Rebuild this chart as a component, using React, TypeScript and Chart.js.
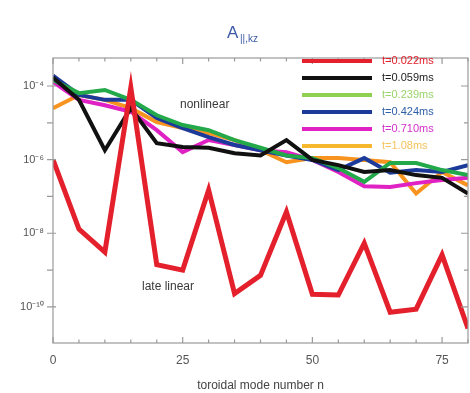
import React, { useEffect, useRef } from "react";
import { Chart, registerables } from "chart.js";

Chart.register(...registerables);

const nValues = [0, 5, 10, 15, 20, 25, 30, 35, 40, 45, 50, 55, 60, 65, 70, 75, 80];

const seriesLabels = ["t=0.022ms", "t=0.059ms", "t=0.239ms", "t=0.424ms", "t=0.710ms", "t=1.08ms"];

const t022 = [1e-6, 1.3e-8, 3.1e-9, 9e-5, 1.4e-9, 1e-9, 1.5e-7, 2.3e-10, 7.2e-10, 3.8e-8, 2.2e-10, 2.1e-10, 5.4e-9, 7.2e-11, 8.7e-11, 2.6e-9, 2.6e-11];
const t059 = [1.7e-4, 4.2e-5, 1.8e-6, 2.5e-5, 2.8e-6, 2.2e-6, 2.1e-6, 1.5e-6, 1.3e-6, 3.4e-6, 9.8e-7, 7.1e-7, 4.6e-7, 5.2e-7, 3.8e-7, 3.2e-7, 1.2e-7];
const t239 = [1.45e-4, 6.4e-5, 7.8e-5, 4.2e-5, 1.6e-5, 8.7e-6, 6.3e-6, 3.4e-6, 2.1e-6, 1.3e-6, 1.1e-6, 5.9e-7, 2.5e-7, 8.1e-7, 8.1e-7, 5.2e-7, 3.8e-7];
const t424 = [1.9e-4, 5.7e-5, 4.2e-5, 4.2e-5, 1.35e-5, 7.2e-6, 4.1e-6, 2.5e-6, 1.8e-6, 1.3e-6, 9.8e-7, 5.2e-7, 1.1e-6, 4.4e-7, 5.2e-7, 4.6e-7, 7.1e-7];
const t710 = [1.3e-4, 4.2e-5, 3e-5, 2e-5, 6.3e-6, 1.6e-6, 3.4e-6, 2.5e-6, 1.8e-6, 1.6e-6, 9.8e-7, 4.6e-7, 1.9e-7, 1.8e-7, 2.3e-7, 2.8e-7, 3.2e-7];
const t108 = [2.5e-5, 5.7e-5, 4.2e-5, 2.5e-5, 1.05e-5, 7.2e-6, 5.3e-6, 3.4e-6, 1.8e-6, 8.5e-7, 1.1e-6, 1.1e-6, 9.8e-7, 8.5e-7, 1.2e-7, 4.6e-7, 2e-7];

const yMajorExps = [-4, -6, -8, -10];
const yMinorExps = [-5, -7, -9];
const xTickLabels = [0, 25, 50, 75];

const lineColors = ["#e3202b", "#111111", "#23a94a", "#1c3a9a", "#e021c4", "#f7931e"];
const legendLineColors = ["#e3202b", "#111111", "#8fd052", "#1c3a9a", "#e021c4", "#f6b92e"];
const legendTextColors = ["#e3202b", "#222222", "#9ad46a", "#2d5fa8", "#d22fc8", "#f4c35c"];

const SUP: Record<string, string> = { "-": "⁻", "0": "⁰", "1": "¹", "2": "²", "3": "³", "4": "⁴", "5": "⁵", "6": "⁶", "7": "⁷", "8": "⁸", "9": "⁹" };
const supText = (e: number) => "10" + String(e).split("").map((c) => SUP[c] || c).join("");

const decorPlugin = {
  id: "decor",
  afterDatasetsDraw(chart: any) {
    const { ctx, chartArea: a, scales } = chart;
    const xs = scales.x;
    const ys = scales.y;
    ctx.save();
    ctx.strokeStyle = "#9a9a9a";
    ctx.lineWidth = 1.2;
    ctx.strokeRect(a.left, a.top, a.right - a.left, a.bottom - a.top);
    for (let n = 0; n <= 80; n += 5) {
      const px = xs.getPixelForValue(n);
      const len = n % 25 === 0 ? 6 : 3.5;
      ctx.beginPath();
      ctx.moveTo(px, a.bottom);
      ctx.lineTo(px, a.bottom - len);
      ctx.moveTo(px, a.top);
      ctx.lineTo(px, a.top + len);
      ctx.stroke();
    }
    const yt = [...yMajorExps.map((e) => [e, 7]), ...yMinorExps.map((e) => [e, 4])];
    for (const [e, len] of yt) {
      const py = ys.getPixelForValue(Math.pow(10, e));
      ctx.beginPath();
      ctx.moveTo(a.left - 6, py);
      ctx.lineTo(a.left + len - 4, py);
      ctx.moveTo(a.right, py);
      ctx.lineTo(a.right - len, py);
      ctx.stroke();
    }
    ctx.font = "11px 'Liberation Sans', Arial, sans-serif";
    ctx.textBaseline = "middle";
    chart.data.datasets.forEach((ds: any, i: number) => {
      const y = 61 + i * 17;
      ctx.strokeStyle = legendLineColors[i];
      ctx.lineWidth = 4;
      ctx.beginPath();
      ctx.moveTo(302, y);
      ctx.lineTo(372, y);
      ctx.stroke();
      ctx.fillStyle = legendTextColors[i];
      ctx.fillText(ds.label, 382, y);
    });
    ctx.fillStyle = "#3a3a3a";
    ctx.font = "12px 'Liberation Sans', Arial, sans-serif";
    ctx.fillText("nonlinear", 180, 105);
    ctx.fillText("late linear", 142, 287);
    ctx.fillStyle = "#3d5aa6";
    ctx.font = "17px 'Liberation Sans', Arial, sans-serif";
    ctx.textBaseline = "alphabetic";
    ctx.fillText("A", 227, 38);
    ctx.font = "10px 'Liberation Sans', Arial, sans-serif";
    ctx.fillText("||,kz", 240, 42);
    ctx.restore();
  },
};

export default function App() {
  const ref = useRef<HTMLCanvasElement>(null);
  useEffect(() => {
    document.body.style.margin = "0";
    const datasets = [t022, t059, t239, t424, t710, t108].map((vals, i) => ({
      label: seriesLabels[i],
      data: nValues.map((n, j) => ({ x: n, y: vals[j] })),
      borderColor: lineColors[i],
      backgroundColor: lineColors[i],
      borderWidth: i === 0 ? 5 : 4,
      pointRadius: 0,
      tension: 0,
    }));
    const chart = new Chart(ref.current as HTMLCanvasElement, {
      type: "line",
      data: { datasets },
      plugins: [decorPlugin],
      options: {
        animation: false,
        responsive: false,
        layout: { padding: { top: 58, right: 2, left: 0, bottom: 0 } },
        plugins: { legend: { display: false }, tooltip: { enabled: false }, title: { display: false } },
        scales: {
          x: {
            type: "linear",
            min: 0,
            max: 80,
            grid: { display: false, drawTicks: false },
            border: { display: false },
            afterBuildTicks: (s: any) => {
              s.ticks = xTickLabels.map((v) => ({ value: v }));
            },
            afterFit: (s: any) => {
              s.height = 50;
            },
            ticks: { color: "#555", padding: 10, font: { size: 12, family: "'Liberation Sans', Arial, sans-serif" } },
            title: {
              display: true,
              text: "toroidal mode number n",
              color: "#444",
              padding: { top: 1, bottom: 0 },
              font: { size: 12, family: "'Liberation Sans', Arial, sans-serif" },
            },
          },
          y: {
            type: "logarithmic",
            min: Math.pow(10, -10.98),
            max: Math.pow(10, -3.24),
            grid: { display: false, drawTicks: false },
            border: { display: false },
            afterBuildTicks: (s: any) => {
              s.ticks = yMajorExps.map((e) => ({ value: Math.pow(10, e) }));
            },
            afterFit: (s: any) => {
              s.width = 53;
            },
            ticks: {
              color: "#555",
              padding: 9,
              font: { size: 11, family: "'Liberation Sans', Arial, sans-serif" },
              callback: (v: any) => supText(Math.round(Math.log10(Number(v)))),
            },
          },
        },
      },
    });
    return () => chart.destroy();
  }, []);
  return (
    <div style={{ position: "absolute", left: 0, top: 0, width: 470, height: 393, background: "#fff" }}>
      <canvas ref={ref} width={470} height={393} />
    </div>
  );
}
